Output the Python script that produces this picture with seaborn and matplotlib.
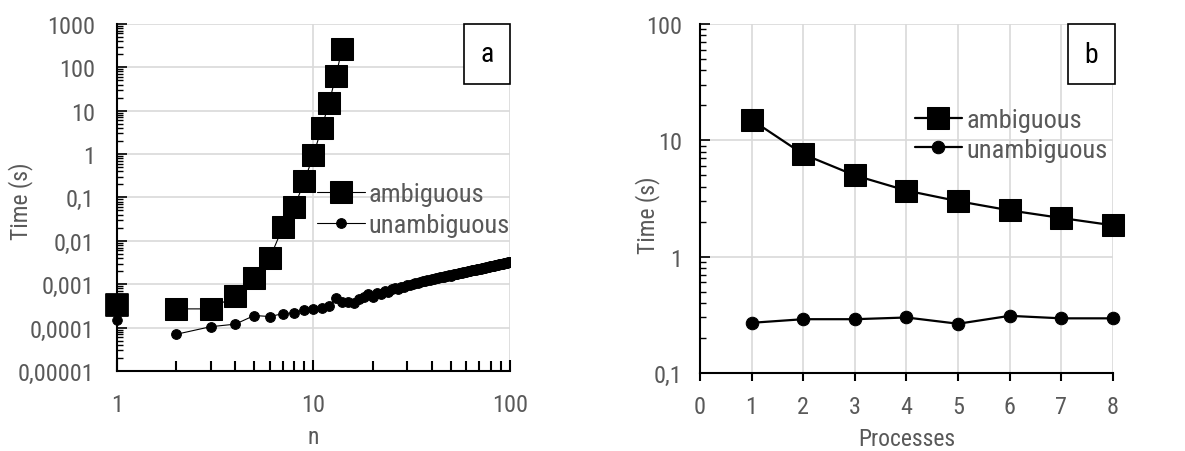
import matplotlib
matplotlib.use('Agg')
import matplotlib.pyplot as plt
import matplotlib.ticker as mticker
from matplotlib.patches import Rectangle
import seaborn as sns
import pandas as pd

### data, panel a ###
n_amb = [1, 2, 3, 4, 5, 6, 7, 8, 9, 10, 11, 12, 13, 14]
t_amb = [0.00034, 0.00027, 0.00027, 0.00054, 0.0014, 0.004, 0.021, 0.06,
         0.24, 0.95, 3.9, 15, 62, 270]

n_unamb = list(range(1, 101))
t_unamb = [0.00015, 0.00007, 0.000105, 0.00012, 0.00019, 0.00018, 0.00021, 0.00022, 0.00026, 0.00027,
           0.00028, 0.00032, 0.00048, 0.00038, 0.00039, 0.00036, 0.00046, 0.00050, 0.00058, 0.00051,
           0.00064, 0.00058, 0.00070, 0.00066, 0.00076, 0.00080, 0.00078, 0.00088, 0.00084, 0.00094,
           0.00098, 0.00100, 0.00108, 0.00104, 0.00114, 0.00118, 0.00116, 0.00124, 0.00128, 0.00130,
           0.00134, 0.00138, 0.00136, 0.00144, 0.00148, 0.00146, 0.00154, 0.00156, 0.00160, 0.00158,
           0.00166, 0.00168, 0.00172, 0.00176, 0.00178, 0.00182, 0.00184, 0.00190, 0.00192, 0.00194,
           0.00198, 0.00202, 0.00204, 0.00208, 0.00212, 0.00214, 0.00218, 0.00220, 0.00224, 0.00226,
           0.00230, 0.00234, 0.00236, 0.00240, 0.00242, 0.00246, 0.00250, 0.00252, 0.00256, 0.00258,
           0.00262, 0.00266, 0.00268, 0.00272, 0.00276, 0.00278, 0.00282, 0.00286, 0.00288, 0.00292,
           0.00296, 0.00298, 0.00302, 0.00306, 0.00308, 0.00312, 0.00316, 0.00318, 0.00322, 0.00326]

### data, panel b ###
procs = [1, 2, 3, 4, 5, 6, 7, 8]
t_amb_p = [15, 7.6, 5.0, 3.7, 3.0, 2.5, 2.15, 1.86]
t_unamb_p = [0.27, 0.29, 0.29, 0.30, 0.265, 0.31, 0.295, 0.295]

ya_ticks = [0.00001, 0.0001, 0.001, 0.01, 0.1, 1, 10, 100, 1000]
ya_labels = ['0,00001', '0,0001', '0,001', '0,01', '0,1', '1', '10', '100', '1000']
xa_ticks = [1, 10, 100]
xa_labels = ['1', '10', '100']
yb_ticks = [0.1, 1, 10, 100]
yb_labels = ['0,1', '1', '10', '100']
xb_ticks = [0, 1, 2, 3, 4, 5, 6, 7, 8]

sns.set_style('white')
plt.rcParams['font.family'] = ['Arial Narrow', 'Liberation Sans Narrow', 'Roboto Condensed',
                               'Archivo Narrow', 'Liberation Sans', 'DejaVu Sans']

gray = '#595959'
grid = '#d9d9d9'

fig = plt.figure(figsize=(11.85, 4.52), dpi=100)
ax1 = fig.add_axes([0.0987, 0.177, 0.3316, 0.768])
ax2 = fig.add_axes([0.5907, 0.1726, 0.3485, 0.772])


def style_axis(ax):
    for s in ['top', 'right']:
        ax.spines[s].set_visible(False)
    for s in ['left', 'bottom']:
        ax.spines[s].set_color('black')
        ax.spines[s].set_linewidth(1.5)
    ax.grid(True, which='major', color=grid, linewidth=1.2)
    ax.set_axisbelow(True)
    ax.tick_params(axis='both', which='both', labelsize=17.5, labelcolor=gray, color='black',
                   left=True, bottom=True)


### panel a ###
df_a1 = pd.DataFrame({'n': n_amb, 't': t_amb})
df_a2 = pd.DataFrame({'n': n_unamb, 't': t_unamb})
# the n = 1 points stand alone, the lines start at n = 2
sns.lineplot(data=df_a1.iloc[1:], x='n', y='t', ax=ax1, color='black', linewidth=0.8,
             marker='s', markersize=16, markeredgecolor='black', label='ambiguous', zorder=3)
sns.lineplot(data=df_a2.iloc[1:], x='n', y='t', ax=ax1, color='black', linewidth=0.8,
             marker='o', markersize=7, markeredgecolor='black', label='unambiguous', zorder=3)
sns.scatterplot(data=df_a1.iloc[:1], x='n', y='t', ax=ax1, color='black', marker='s',
                s=256, edgecolor='black', zorder=4, clip_on=False, legend=False)
sns.scatterplot(data=df_a2.iloc[:1], x='n', y='t', ax=ax1, color='black', marker='o',
                s=49, edgecolor='black', zorder=4, clip_on=False, legend=False)
ax1.set_xscale('log')
ax1.set_yscale('log')
ax1.set_xlim(1, 100)
ax1.set_ylim(0.00001, 1000)
ax1.set_yticks(ya_ticks)
ax1.yaxis.set_major_formatter(mticker.FixedFormatter(ya_labels))
ax1.yaxis.set_minor_locator(mticker.LogLocator(base=10, subs=range(2, 10), numticks=50))
ax1.yaxis.set_minor_formatter(mticker.NullFormatter())
ax1.set_xticks(xa_ticks)
ax1.xaxis.set_major_formatter(mticker.FixedFormatter(xa_labels))
ax1.xaxis.set_minor_locator(mticker.LogLocator(base=10, subs=range(2, 10), numticks=50))
ax1.xaxis.set_minor_formatter(mticker.NullFormatter())
style_axis(ax1)
ax1.tick_params(axis='y', which='major', direction='in', length=7, width=1.2, pad=16)
ax1.tick_params(axis='y', which='minor', direction='in', length=4, width=1)
ax1.tick_params(axis='x', which='major', direction='in', length=8, width=1.5, pad=16)
ax1.tick_params(axis='x', which='minor', direction='in', length=7, width=1.5)
ax1.set_xlabel('n', fontsize=17, color=gray, labelpad=6)
ax1.set_ylabel('Time (s)', fontsize=17, color=gray)
ax1.yaxis.set_label_coords(-0.214, 0.493)
ax1.legend(loc='upper left', bbox_to_anchor=(0.51, 0.545), frameon=False, fontsize=19,
           labelcolor=gray, handlelength=1.8, handletextpad=0.15, borderpad=0,
           borderaxespad=0, labelspacing=0.28)
ax1.add_patch(Rectangle((0.883, 0.827), 0.117, 0.173, transform=ax1.transAxes,
                        facecolor='white', edgecolor='black', linewidth=1.2, zorder=5, clip_on=False))
ax1.text(0.9415, 0.9135, 'a', transform=ax1.transAxes, ha='center', va='center',
         fontsize=20, color='black', zorder=6)

### panel b ###
df_b1 = pd.DataFrame({'p': procs, 't': t_amb_p})
df_b2 = pd.DataFrame({'p': procs, 't': t_unamb_p})
sns.lineplot(data=df_b1, x='p', y='t', ax=ax2, color='black', linewidth=1.6,
             marker='s', markersize=16, markeredgecolor='black', label='ambiguous', clip_on=False)
sns.lineplot(data=df_b2, x='p', y='t', ax=ax2, color='black', linewidth=1.6,
             marker='o', markersize=9, markeredgecolor='black', label='unambiguous', clip_on=False)
ax2.set_yscale('log')
ax2.set_xlim(0, 8)
ax2.set_ylim(0.1, 100)
ax2.set_yticks(yb_ticks)
ax2.yaxis.set_major_formatter(mticker.FixedFormatter(yb_labels))
ax2.yaxis.set_minor_locator(mticker.LogLocator(base=10, subs=range(2, 10), numticks=50))
ax2.yaxis.set_minor_formatter(mticker.NullFormatter())
ax2.set_xticks(xb_ticks)
style_axis(ax2)
ax2.tick_params(axis='y', which='major', direction='in', length=7, width=1.2, pad=13)
ax2.tick_params(axis='y', which='minor', direction='in', length=4, width=1)
ax2.tick_params(axis='x', which='major', direction='out', length=6, width=1.5, pad=10)
ax2.set_xlabel('Processes', fontsize=17, color=gray, labelpad=6)
ax2.set_ylabel('Time (s)', fontsize=17, color=gray)
ax2.yaxis.set_label_coords(-0.097, 0.456)
ax2.legend(loc='upper left', bbox_to_anchor=(0.52, 0.76), frameon=False, fontsize=19,
           labelcolor=gray, handlelength=1.8, handletextpad=0.15, borderpad=0,
           borderaxespad=0, labelspacing=0.22)
ax2.add_patch(Rectangle((0.891, 0.828), 0.114, 0.172, transform=ax2.transAxes,
                        facecolor='white', edgecolor='black', linewidth=1.2, zorder=5, clip_on=False))
ax2.text(0.948, 0.914, 'b', transform=ax2.transAxes, ha='center', va='center',
         fontsize=20, color='black', zorder=6)

fig.savefig('out.png', dpi=100)
